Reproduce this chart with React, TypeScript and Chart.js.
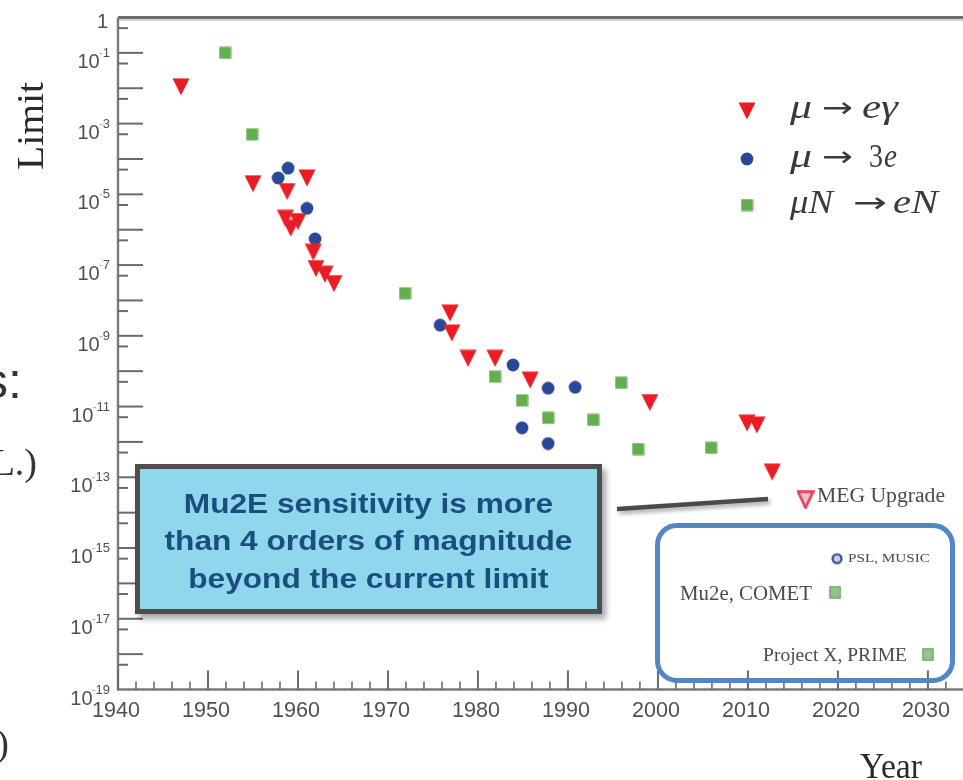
import React, { useEffect, useRef } from "react";
import { Chart, registerables } from "chart.js";
Chart.register(...registerables);

// ---- data ----
const MU_EGAMMA_YEARS = [1947.0, 1955.0, 1958.8, 1961.0, 1958.6, 1960.0, 1959.2, 1961.7, 1962.0, 1963.0, 1964.0, 1976.9, 1977.1, 1978.9, 1981.9, 1985.8, 1999.1, 2009.9, 2011.0, 2012.7];
const MU_EGAMMA_LIMITS = [1.1e-2, 2.0e-5, 1.2e-5, 2.9e-5, 2.1e-6, 1.7e-6, 1.1e-6, 2.3e-7, 8.0e-8, 5.5e-8, 3.0e-8, 4.4e-9, 1.2e-9, 2.3e-10, 2.3e-10, 5.6e-11, 1.3e-11, 3.4e-12, 3.0e-12, 1.4e-13];
const MU_3E_YEARS = [1957.8, 1958.9, 1961.0, 1961.9, 1975.8, 1983.9, 1987.8, 1990.8, 1984.9, 1987.8];
const MU_3E_LIMITS = [2.9e-5, 5.5e-5, 4.0e-6, 5.5e-7, 2.0e-9, 1.5e-10, 3.3e-11, 3.5e-11, 2.5e-12, 9.0e-13];
const MU_N_YEARS = [1951.9, 1954.9, 1971.9, 1981.9, 1984.9, 1987.8, 1992.8, 1995.9, 1997.8, 2005.9];
const MU_N_LIMITS = [1.0e-1, 5.0e-4, 1.6e-8, 7.0e-11, 1.5e-11, 4.8e-12, 4.2e-12, 4.7e-11, 6.3e-13, 6.8e-13];
const FUTURE_LABELS = ["MEG Upgrade", "PSL, MUSIC", "Mu2e, COMET", "Project X, PRIME"];
const FUTURE_KINDS = ["egamma", "3e", "conv", "conv"];
const FUTURE_YEARS = [2016.4, 2019.9, 2019.7, 2030.0];
const FUTURE_LIMITS = [2.3e-14, 5.0e-16, 5.7e-17, 9.5e-19];

const X_MIN = 1940;
const X_MAX = 2033.9;
const X_LABEL_YEARS = [1940, 1950, 1960, 1970, 1980, 1990, 2000, 2010, 2020, 2030];
const Y_DECADE_EXPONENTS = [0, -1, -2, -3, -4, -5, -6, -7, -8, -9, -10, -11, -12, -13, -14, -15, -16, -17, -18, -19];
const Y_LABEL_EXPONENTS = [-1, -3, -5, -7, -9, -11, -13, -15, -17, -19];
const CALLOUT_LINES = ["Mu2E sensitivity is more", "than 4 orders of magnitude", "beyond the current limit"];

const RED = "#ec1c24";
const BLUE = "#2b4797";
const GREEN = "#63ae4f";
const SERIF = "'Liberation Serif', 'DejaVu Serif', serif";
const SANS = "'Liberation Sans', Arial, sans-serif";

function mk(w: number, h: number, draw: (g: CanvasRenderingContext2D) => void) {
  const c = document.createElement("canvas");
  c.width = w;
  c.height = h;
  const g = c.getContext("2d")!;
  draw(g);
  return c;
}

function makeMarkers() {
  const tri = mk(18, 18, (g) => {
    g.beginPath();
    g.moveTo(0.5, 0.5);
    g.lineTo(17.5, 0.5);
    g.lineTo(9, 17.5);
    g.closePath();
    g.fillStyle = RED;
    g.fill();
  });
  const triOpen = mk(18, 19, (g) => {
    g.beginPath();
    g.moveTo(1.5, 1.5);
    g.lineTo(16.5, 1.5);
    g.lineTo(9, 17.5);
    g.closePath();
    g.fillStyle = "#f4c0c8";
    g.fill();
    g.strokeStyle = "#e43a52";
    g.lineWidth = 2.5;
    g.stroke();
  });
  const circ = mk(14, 14, (g) => {
    g.beginPath();
    g.arc(7, 7, 6.4, 0, Math.PI * 2);
    g.fillStyle = BLUE;
    g.fill();
  });
  const circOpen = mk(12, 12, (g) => {
    g.beginPath();
    g.arc(6, 6, 4.4, 0, Math.PI * 2);
    g.fillStyle = "#c9cde6";
    g.fill();
    g.strokeStyle = "#3b55a0";
    g.lineWidth = 2.4;
    g.stroke();
  });
  const sq = mk(13, 13, (g) => {
    g.fillStyle = GREEN;
    g.fillRect(0.5, 0.5, 12, 12);
  });
  const sqOpen = mk(12, 13, (g) => {
    g.fillStyle = "#93c48b";
    g.fillRect(0.5, 0.5, 11, 12);
    g.strokeStyle = "#74b067";
    g.lineWidth = 1.5;
    g.strokeRect(1, 1, 10, 11);
  });
  return { tri, triOpen, circ, circOpen, sq, sqOpen };
}

type Seg = { t: string; font: string; x0: number; x1: number; dy?: number };

function fitText(ctx: CanvasRenderingContext2D, text: string, font: string, x0: number, x1: number, y: number) {
  ctx.save();
  ctx.font = font;
  ctx.textAlign = "left";
  ctx.textBaseline = "alphabetic";
  const w = ctx.measureText(text).width;
  ctx.translate(x0, y);
  ctx.scale((x1 - x0) / w, 1);
  ctx.fillText(text, 0, 0);
  ctx.restore();
}

function drawSegs(ctx: CanvasRenderingContext2D, segs: Seg[], y: number) {
  segs.forEach((s) => fitText(ctx, s.t, s.font, s.x0, s.x1, y + (s.dy || 0)));
}

export default function App() {
  const ref = useRef<HTMLCanvasElement>(null);

  useEffect(() => {
    const m = makeMarkers();
    const pts = (xs: number[], ys: number[]) => xs.map((x, i) => ({ x, y: ys[i] }));
    const fut = (kind: string) =>
      FUTURE_YEARS.map((x, i) => ({ x, y: FUTURE_LIMITS[i], k: FUTURE_KINDS[i] }))
        .filter((p) => p.k === kind)
        .map((p) => ({ x: p.x, y: p.y }));

    const decor = {
      id: "decor",
      beforeDatasetsDraw(chart: any) {
        const ctx: CanvasRenderingContext2D = chart.ctx;
        const xs = chart.scales.x;
        const ys = chart.scales.y;
        const a = chart.chartArea;
        ctx.save();
        ctx.lineCap = "butt";
        // frame
        ctx.strokeStyle = "#d6d6d6";
        ctx.lineWidth = 2;
        ctx.beginPath();
        ctx.moveTo(a.left, a.top + 2.5);
        ctx.lineTo(a.right, a.top + 2.5);
        ctx.stroke();
        ctx.strokeStyle = "#6e6e6e";
        ctx.lineWidth = 3.2;
        ctx.beginPath();
        ctx.moveTo(a.left, a.top);
        ctx.lineTo(a.right, a.top);
        ctx.stroke();
        ctx.strokeStyle = "#7a7a7a";
        ctx.lineWidth = 2.4;
        ctx.beginPath();
        ctx.moveTo(a.left, a.top);
        ctx.lineTo(a.left, a.bottom);
        ctx.lineTo(a.right, a.bottom);
        ctx.stroke();

        // y ticks
        ctx.strokeStyle = "#6a6a6a";
        ctx.lineWidth = 2;
        Y_DECADE_EXPONENTS.forEach((e) => {
          const y = ys.getPixelForValue(Math.pow(10, e));
          if (e !== 0 && e !== -19) {
            ctx.beginPath();
            ctx.moveTo(a.left, y);
            ctx.lineTo(a.left + 25, y);
            ctx.stroke();
          }
          if (e > -19) {
            const ym = ys.getPixelForValue(5 * Math.pow(10, e - 1));
            ctx.beginPath();
            ctx.moveTo(a.left, ym);
            ctx.lineTo(a.left + 10, ym);
            ctx.stroke();
          }
        });
        // x ticks
        for (let yr = X_MIN; yr <= 2032; yr += 2) {
          const x = xs.getPixelForValue(yr);
          const major = yr % 10 === 0;
          ctx.lineWidth = major ? 2 : 1.6;
          ctx.beginPath();
          ctx.moveTo(x, a.bottom);
          ctx.lineTo(x, a.bottom - (major ? 19 : 8));
          ctx.stroke();
        }

        // y labels
        ctx.fillStyle = "#505050";
        ctx.textBaseline = "alphabetic";
        ctx.textAlign = "left";
        {
          const y = ys.getPixelForValue(1);
          ctx.font = `20px ${SANS}`;
          ctx.textAlign = "right";
          ctx.fillText("1", 108, y + 10);
          ctx.textAlign = "left";
        }
        Y_LABEL_EXPONENTS.forEach((e) => {
          const y = ys.getPixelForValue(Math.pow(10, e));
          const digits = String(-e);
          ctx.font = `20px ${SANS}`;
          const w10 = ctx.measureText("10").width;
          ctx.font = `13px ${SANS}`;
          const wm = ctx.measureText("-").width;
          const wd = ctx.measureText(digits).width;
          const right = 110;
          const x0 = right - (w10 + wm * 0.7 + wd);
          ctx.font = `20px ${SANS}`;
          ctx.fillStyle = "#505050";
          ctx.fillText("10", x0, y + 15);
          ctx.font = `13px ${SANS}`;
          ctx.fillStyle = "#b0b0b0";
          ctx.fillText("-", x0 + w10 - 1, y + 4);
          ctx.fillStyle = "#505050";
          ctx.fillText(digits, x0 + w10 + wm * 0.7, y + 4);
        });

        // x labels
        ctx.fillStyle = "#505050";
        X_LABEL_YEARS.forEach((yr) => {
          const x = xs.getPixelForValue(yr) - 2;
          fitText(ctx, String(yr), `22px ${SANS}`, x - 24, x + 24, a.bottom + 27);
        });
        ctx.restore();
      },
      afterDraw(chart: any) {
        const ctx: CanvasRenderingContext2D = chart.ctx;
        ctx.save();
        // legend
        const it = `italic 33px ${SERIF}`;
        const up = `33px ${SERIF}`;
        const ar = `28px 'DejaVu Sans', sans-serif`;
        ctx.fillStyle = "#3a3a3a";
        ctx.drawImage(m.tri, 747 - 9, 111 - 9);
        ctx.drawImage(m.circ, 747 - 7, 159 - 7);
        ctx.drawImage(m.sq, 747 - 6.5, 205 - 6.5);
        drawSegs(ctx, [
          { t: "\u03bc", font: it, x0: 790, x1: 812 },
          { t: "\u2192", font: ar, x0: 822, x1: 853, dy: -1 },
          { t: "e\u03b3", font: it, x0: 862, x1: 898 },
        ], 118);
        drawSegs(ctx, [
          { t: "\u03bc", font: it, x0: 790, x1: 812 },
          { t: "\u2192", font: ar, x0: 822, x1: 853, dy: -1 },
          { t: "3", font: up, x0: 869, x1: 883 },
          { t: "e", font: it, x0: 884, x1: 897 },
        ], 167);
        drawSegs(ctx, [
          { t: "\u03bcN", font: it, x0: 790, x1: 833 },
          { t: "\u2192", font: ar, x0: 853, x1: 887, dy: -1 },
          { t: "eN", font: it, x0: 893, x1: 938 },
        ], 213);

        // axis titles
        ctx.fillStyle = "#2a2a2a";
        ctx.save();
        ctx.translate(43, 170);
        ctx.rotate(-Math.PI / 2);
        fitText(ctx, "Limit", `38px ${SERIF}`, 0, 88, 0);
        ctx.restore();
        fitText(ctx, "Year", `36px ${SERIF}`, 860, 922, 778);

        // future experiment labels
        ctx.fillStyle = "#4a4a4a";
        fitText(ctx, FUTURE_LABELS[0], `20px ${SERIF}`, 817, 945, 502);
        fitText(ctx, FUTURE_LABELS[1], `12px ${SERIF}`, 848, 930, 562);
        fitText(ctx, FUTURE_LABELS[2], `20px ${SERIF}`, 680, 812, 600);
        fitText(ctx, FUTURE_LABELS[3], `19px ${SERIF}`, 763, 907, 661);

        // connector line
        ctx.save();
        ctx.shadowColor = "rgba(0,0,0,0.35)";
        ctx.shadowOffsetX = 2;
        ctx.shadowOffsetY = 3;
        ctx.shadowBlur = 4;
        ctx.strokeStyle = "#4a4a4a";
        ctx.lineWidth = 4.5;
        ctx.beginPath();
        ctx.moveTo(617, 509);
        ctx.lineTo(768, 499);
        ctx.stroke();
        ctx.restore();

        // clipped slide text on the left
        ctx.fillStyle = "#333";
        ctx.textAlign = "right";
        ctx.font = `50px ${SANS}`;
        ctx.fillText("s:", 22, 398);
        ctx.font = `38px ${SERIF}`;
        ctx.fillText("C.L.)", 37, 475);
        ctx.fillText(")", 9, 756);
        ctx.restore();
      },
    };

    const chart = new Chart(ref.current!, {
      type: "scatter",
      data: {
        datasets: [
          { label: "\u03bc \u2192 e\u03b3", data: pts(MU_EGAMMA_YEARS, MU_EGAMMA_LIMITS), pointStyle: m.tri as any, pointRadius: 8 },
          { label: "\u03bc \u2192 3e", data: pts(MU_3E_YEARS, MU_3E_LIMITS), pointStyle: m.circ as any, pointRadius: 7 },
          { label: "\u03bcN \u2192 eN", data: pts(MU_N_YEARS, MU_N_LIMITS), pointStyle: m.sq as any, pointRadius: 7 },
          { label: "MEG Upgrade", data: fut("egamma"), pointStyle: m.triOpen as any, pointRadius: 8 },
          { label: "PSL, MUSIC", data: fut("3e"), pointStyle: m.circOpen as any, pointRadius: 6 },
          { label: "Mu2e / Project X", data: fut("conv"), pointStyle: m.sqOpen as any, pointRadius: 6 },
        ] as any,
      },
      options: {
        responsive: false,
        maintainAspectRatio: false,
        animation: false,
        devicePixelRatio: 1,
        layout: { autoPadding: false, padding: { left: 118, top: 17.5, right: 0, bottom: 90.5 } },
        plugins: { legend: { display: false }, tooltip: { enabled: false } },
        scales: {
          x: { type: "linear", min: X_MIN, max: X_MAX, display: false },
          y: { type: "logarithmic", min: 1e-19, max: 1, display: false },
        },
      } as any,
      plugins: [decor as any],
    });
    return () => chart.destroy();
  }, []);

  return (
    <div style={{ position: "absolute", left: 0, top: 0, width: 963, height: 780, overflow: "hidden", background: "#fff" }}>
      <canvas ref={ref} width={963} height={780} style={{ position: "absolute", left: 0, top: 0, width: 963, height: 780 }} />
      <div
        style={{
          position: "absolute",
          left: 135,
          top: 464,
          width: 467,
          height: 150,
          boxSizing: "border-box",
          border: "5px solid #4d4d4d",
          background: "#8fd7ea",
          boxShadow: "4px 5px 6px rgba(0,0,0,0.35)",
          display: "flex",
          alignItems: "center",
          justifyContent: "center",
        }}
      >
        <div
          style={{
            color: "#1b4e80",
            fontFamily: SANS,
            fontWeight: "bold",
            fontSize: 28,
            lineHeight: "37.5px",
            textAlign: "center",
            whiteSpace: "nowrap",
            transform: "scaleX(1.13)",
            marginTop: 4,
          }}
        >
          {CALLOUT_LINES.map((l, i) => (
            <div key={i}>{l}</div>
          ))}
        </div>
      </div>
      <div
        style={{
          position: "absolute",
          left: 655,
          top: 523,
          width: 300,
          height: 160,
          boxSizing: "border-box",
          border: "5px solid #5386c4",
          borderRadius: 22,
        }}
      />
    </div>
  );
}
